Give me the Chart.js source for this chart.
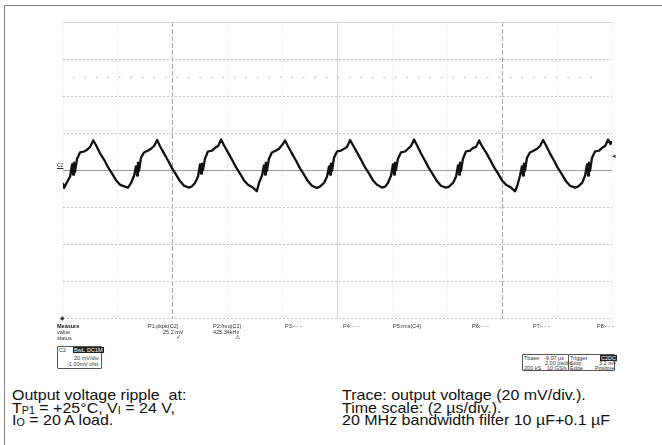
<!DOCTYPE html>
<html>
<head>
<meta charset="utf-8">
<script src="https://cdn.jsdelivr.net/npm/chart.js@4/dist/chart.umd.min.js"></script>
<style>
    body { margin: 0; background: #fff; font-family: Arial, "Liberation Sans", sans-serif; }
    #page { position: relative; width: 662px; height: 445px; overflow: hidden; }
    #marco { position: absolute; left: 4px; top: 5px; width: 700px; height: 500px;
             border-left: 1.5px solid #808080; border-top: 1.5px solid #808080; }
    #caja-grafico { position: absolute; left: 61px; top: 20px; width: 553px; height: 300px; }
    .mini { position: absolute; font-size: 5.5px; color: #333; white-space: nowrap; line-height: 6px; }
    .neg { font-weight: bold; color: #111; }
    .inv { background: #222; color: #fff; padding: 0 1px; }
    .caja { position: absolute; border: 1px solid #555; border-radius: 1px; }
    .pie { position: absolute; font-size: 15px; line-height: 12.5px; color: #111; white-space: nowrap;
           transform: scaleX(1.067); transform-origin: left top; }
    .pie sub { font-size: 10px; vertical-align: -1px; line-height: 0; }
</style>
</head>
<body>
<div id="page">
    <div id="marco"></div>
    <div id="caja-grafico"><canvas id="chart-ripple"></canvas></div>

    <!-- marcas del osciloscopio -->
    <div class="mini" style="left:57px;top:162px;font-size:5px;text-decoration:underline;">C2</div>
    <div class="mini" style="left:612px;top:153px;font-size:7px;">&#9666;</div>
    <div class="mini" style="left:60px;top:315px;font-size:6px;">&#9670;</div>

    <!-- tabla de medidas -->
    <div class="mini neg" style="left:57px;top:323px;">Measure</div>
    <div class="mini" style="left:57px;top:329px;">value</div>
    <div class="mini" style="left:57px;top:335px;">status</div>

    <div class="mini" style="left:148px;top:323px;">P1:pkpk(C2)</div>
    <div class="mini" style="left:163px;top:329px;">25.2 mV</div>
    <div class="mini" style="left:176px;top:334px;">&#10003;</div>

    <div class="mini" style="left:213px;top:323px;">P2:freq(C2)</div>
    <div class="mini" style="left:213px;top:329px;">425.34kHz</div>
    <div class="mini" style="left:235px;top:334px;">&#9888;</div>

    <div class="mini" style="left:285px;top:323px;">P3:- - -</div>
    <div class="mini" style="left:343px;top:323px;">P4:- - -</div>
    <div class="mini" style="left:393px;top:323px;">P5:rms(C4)</div>
    <div class="mini" style="left:472px;top:323px;">P6:- - -</div>
    <div class="mini" style="left:533px;top:323px;">P7:- - -</div>
    <div class="mini" style="left:597px;top:323px;">P8:- - -</div>

    <!-- caja del canal -->
    <div class="caja" style="left:57px;top:346px;width:43px;height:21px;"></div>
    <div class="mini" style="left:59px;top:347px;">C2</div>
    <div class="mini inv" style="left:73px;top:347px;">BwL</div>
    <div class="mini inv" style="left:86px;top:347px;">DC1M</div>
    <div class="mini" style="left:74px;top:355px;">20 mV/div</div>
    <div class="mini" style="left:67px;top:361px;">-1.00mV ofst</div>

    <!-- cajas de base de tiempo y disparo -->
    <div class="caja" style="left:522px;top:354px;width:45px;height:15px;"></div>
    <div class="caja" style="left:568px;top:354px;width:45px;height:15px;"></div>
    <div class="mini" style="left:524px;top:355px;">Tbase</div>
    <div class="mini" style="left:544px;top:355px;">-9.07 µs</div>
    <div class="mini" style="left:545px;top:360px;">2.00 µs/div</div>
    <div class="mini" style="left:524px;top:365px;">200 kS</div>
    <div class="mini" style="left:547px;top:365px;">10 GS/s</div>
    <div class="mini" style="left:570px;top:355px;">Trigger</div>
    <div class="mini inv" style="left:600px;top:355px;">C2DC</div>
    <div class="mini" style="left:570px;top:360px;">Stop</div>
    <div class="mini" style="left:599px;top:360px;">3.2 mV</div>
    <div class="mini" style="left:570px;top:365px;">Edge</div>
    <div class="mini" style="left:595px;top:365px;">Positive</div>

    <!-- textos al pie -->
    <div class="pie" style="left:12px;top:389px;">
        Output voltage ripple &nbsp;at:<br>
        T<sub>P1</sub> = +25°C, V<sub>I</sub> = 24 V,<br>
        I<sub>O</sub> = 20 A load.
    </div>
    <div class="pie" style="left:342px;top:389px;">
        Trace: output voltage (20 mV/div.).<br>
        Time scale: (2 µs/div.).<br>
        20 MHz bandwidth filter 10 µF+0.1 µF
    </div>
</div>

<script>
// Datos: tiempo en µs (2 µs/div), tensión en mV (20 mV/div)
const tiempoUs = [
    0.00, 0.04, 0.15, 0.26, 0.33, 0.37, 0.40, 0.44, 0.51, 0.62, 0.77, 0.88, 0.99, 1.10, 1.20, 1.35, 1.50, 1.64, 1.79, 1.93, 2.08, 2.26, 2.37,
    2.48, 2.59, 2.66, 2.70, 2.73, 2.77, 2.84, 2.95, 3.10, 3.21, 3.32, 3.43, 3.53, 3.68, 3.83, 3.97, 4.12, 4.26, 4.41, 4.59, 4.70,
    4.81, 4.92, 4.99, 5.03, 5.06, 5.10, 5.17, 5.28, 5.43, 5.54, 5.65, 5.76, 5.86, 6.01, 6.16, 6.30, 6.45, 6.59, 6.74, 6.92, 7.06,
    7.14, 7.25, 7.32, 7.36, 7.39, 7.43, 7.50, 7.61, 7.76, 7.87, 7.98, 8.09, 8.19, 8.34, 8.49, 8.63, 8.78, 8.92, 9.07, 9.25, 9.36,
    9.51, 9.62, 9.69, 9.73, 9.76, 9.80, 9.87, 9.98, 10.13, 10.24, 10.35, 10.46, 10.56, 10.71, 10.86, 11.00, 11.15, 11.29, 11.44, 11.62, 11.73,
    11.84, 11.95, 12.02, 12.06, 12.09, 12.13, 12.20, 12.31, 12.46, 12.57, 12.68, 12.79, 12.89, 13.04, 13.19, 13.33, 13.48, 13.62, 13.77, 13.95, 14.06,
    14.21, 14.32, 14.39, 14.43, 14.46, 14.50, 14.57, 14.68, 14.83, 14.94, 15.05, 15.16, 15.26, 15.41, 15.56, 15.70, 15.85, 15.99, 16.14, 16.32, 16.47,
    16.56, 16.65, 16.72, 16.76, 16.79, 16.83, 16.90, 17.01, 17.16, 17.27, 17.38, 17.49, 17.59, 17.74, 17.89, 18.03, 18.18, 18.32, 18.47, 18.65, 18.76,
    18.91, 19.02, 19.09, 19.13, 19.16, 19.20, 19.27, 19.38, 19.53, 19.64, 19.75, 19.86, 19.95, 20.00
];
const rizadoMv = [
    -7.0, -9.7, -6.5, -3.5, 3.0, -2.5, 4.0, -1.0, 6.0, 9.5, 10.0, 11.0, 12.5, 16.0, 13.5, 9.0, 5.5, 1.5, -2.0, -5.5, -8.0, -9.0, -9.5,
    -7.0, -3.0, 2.0, -3.0, 4.0, -0.5, 6.5, 9.5, 10.5, 11.5, 13.0, 16.2, 13.0, 9.0, 5.0, 1.0, -2.5, -6.0, -8.5, -9.5, -8.8,
    -7.0, -3.5, 3.0, -2.0, 3.5, 0.0, 6.0, 10.0, 10.5, 12.0, 13.0, 16.5, 13.5, 9.5, 5.5, 1.5, -2.0, -5.5, -8.0, -9.5, -11.5,
    -7.0, -3.0, 2.5, -2.5, 4.0, -0.5, 6.0, 9.5, 10.5, 11.5, 13.5, 16.0, 13.0, 9.0, 5.0, 1.0, -2.5, -6.0, -8.5, -9.7, -9.0,
    -7.0, -3.5, 2.0, -2.5, 3.5, -0.5, 6.5, 10.0, 10.5, 11.5, 12.5, 16.2, 13.5, 9.5, 5.5, 1.5, -2.0, -5.5, -8.0, -9.5, -9.0,
    -7.0, -3.0, 3.0, -2.5, 4.0, 0.0, 6.0, 9.5, 10.0, 11.5, 13.0, 16.5, 13.5, 9.0, 5.0, 1.0, -2.5, -6.0, -8.5, -9.5, -9.0,
    -7.0, -3.5, 2.5, -2.5, 4.0, -0.5, 6.0, 10.0, 10.5, 12.0, 12.5, 16.0, 13.0, 9.5, 5.5, 1.5, -2.0, -5.5, -8.0, -9.5, -11.5,
    -8.0, -3.0, 2.0, -3.0, 3.5, -0.5, 6.5, 9.5, 10.5, 11.5, 13.0, 16.2, 13.5, 9.0, 5.0, 1.0, -2.5, -6.0, -8.5, -9.5, -9.0,
    -7.0, -3.0, 3.0, -3.0, 4.0, -0.5, 6.5, 10.0, 10.5, 12.0, 13.0, 16.5, 14.0, 15.5
];

// Fila punteada tenue que aparece a +50 mV
const filaPuntosUs = [0.36, 19.3];
const filaPuntosMv = [50, 50];

// Ejes de la retícula: 10 div x 2 µs, 8 div x 20 mV
const ejeTiempo = { min: 0, max: 20, paso: 2 };
const ejeTension = { min: -80, max: 80, paso: 20 };

let miGrafico;

document.addEventListener("DOMContentLoaded", () => {
    const ctx = document.getElementById("chart-ripple").getContext("2d");

    const traza = tiempoUs.map((t, i) => ({ x: t, y: rizadoMv[i] }));
    const puntos = filaPuntosUs.map((t, i) => ({ x: t, y: filaPuntosMv[i] }));

    miGrafico = new Chart(ctx, {
        type: "line",
        data: {
            datasets: [
                {
                    data: puntos,
                    borderColor: "#c0c0c0",
                    borderWidth: 1.5,
                    borderDash: [1.5, 10],
                    pointRadius: 0,
                    fill: false
                },
                {
                    data: traza,
                    borderColor: "#111",
                    borderWidth: 2.3,
                    tension: 0,
                    pointRadius: 0,
                    fill: false,
                    borderJoinStyle: "round"
                }
            ]
        },
        options: {
            responsive: true,
            maintainAspectRatio: false,
            animation: false,
            layout: { padding: 2 },
            plugins: { legend: { display: false }, tooltip: { enabled: false } },
            scales: {
                x: {
                    type: "linear",
                    min: ejeTiempo.min,
                    max: ejeTiempo.max,
                    ticks: { stepSize: ejeTiempo.paso, display: false },
                    grid: {
                        drawTicks: false,
                        lineWidth: 1,
                        color: c => {
                            const v = c.tick ? c.tick.value : 0;
                            if (v === 4 || v === 16) return "#ababab";
                            if (v === 10) return "#d2d2d2";
                            return "#e0e0e0";
                        }
                    },
                    border: {
                        display: false,
                        dash: c => {
                            const v = c.tick ? c.tick.value : 0;
                            if (v === 4 || v === 16) return [5, 2];
                            if (v === 10) return [];
                            return [1, 2];
                        }
                    }
                },
                y: {
                    min: ejeTension.min,
                    max: ejeTension.max,
                    ticks: { stepSize: ejeTension.paso, display: false },
                    grid: {
                        drawTicks: false,
                        lineWidth: 1,
                        color: c => {
                            const v = c.tick ? c.tick.value : 0;
                            if (v === 0) return "#9a9a9a";
                            if (v === 80) return "#d4d4d4";
                            return "#c4c4c4";
                        }
                    },
                    border: {
                        display: false,
                        dash: c => {
                            const v = c.tick ? c.tick.value : 0;
                            if (v === 0 || v === 80) return [];
                            return [2, 2];
                        }
                    }
                }
            }
        }
    });
});
</script>
</body>
</html>
